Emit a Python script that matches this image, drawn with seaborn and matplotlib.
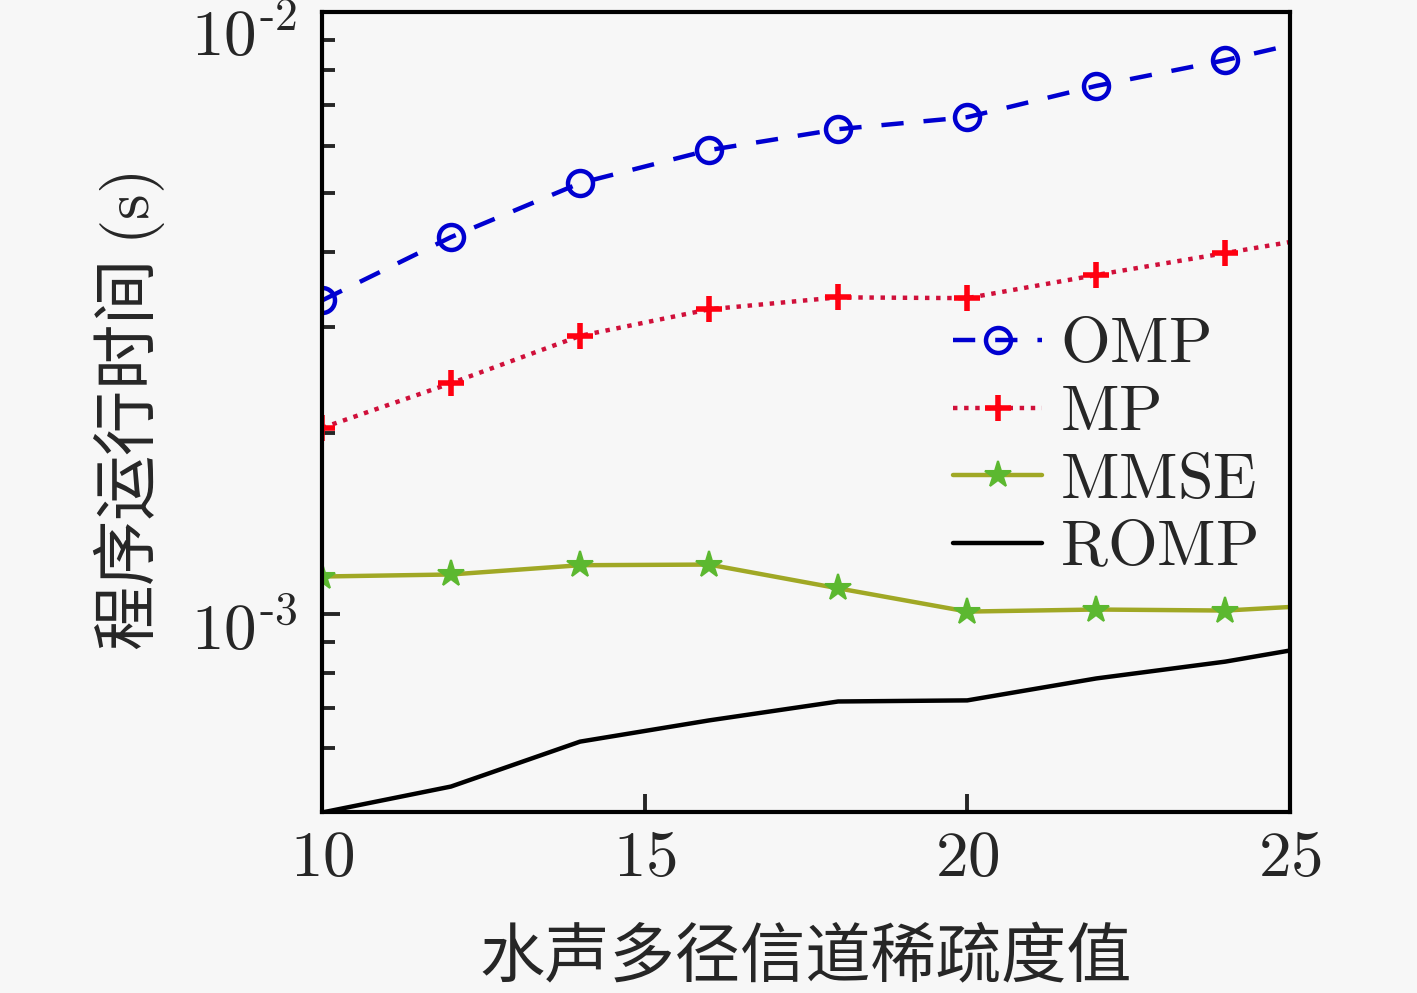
import matplotlib

matplotlib.use("Agg")
import matplotlib.pyplot as plt
import matplotlib.ticker as mticker
import numpy as np
import pandas as pd
import seaborn as sns


# sparsity values (last point lies past the x limit and is clipped)
sparsity = [10, 12, 14, 16, 18, 20, 22, 24, 26]

omp_time = [3.32e-3, 4.23e-3, 5.20e-3, 5.90e-3, 6.39e-3, 6.69e-3, 7.54e-3, 8.32e-3, 9.33e-3]
mp_time = [2.04e-3, 2.42e-3, 2.90e-3, 3.21e-3, 3.36e-3, 3.35e-3, 3.66e-3, 3.98e-3, 4.33e-3]
mmse_time = [1.156e-3, 1.165e-3, 1.207e-3, 1.210e-3, 1.105e-3, 1.011e-3, 1.019e-3, 1.015e-3, 1.043e-3]
romp_time = [4.69e-4, 5.18e-4, 6.15e-4, 6.67e-4, 7.17e-4, 7.20e-4, 7.83e-4, 8.35e-4, 9.09e-4]

methods = ["OMP", "MP", "MMSE", "ROMP"]
x_ticks = [10, 15, 20, 25]
y_major = [1e-3, 1e-2]
y_minor = [6e-4, 7e-4, 8e-4, 9e-4, 2e-3, 3e-3, 4e-3, 5e-3, 6e-3, 7e-3, 8e-3, 9e-3]

BG = "#f7f7f7"

sns.set_style("ticks")
plt.rcParams["font.family"] = ["Noto Sans CJK SC", "DejaVu Sans"]
plt.rcParams["mathtext.fontset"] = "cm"

df = pd.DataFrame(
    {
        "sparsity": sparsity * 4,
        "time": omp_time + mp_time + mmse_time + romp_time,
        "method": np.repeat(methods, len(sparsity)),
    }
)

styles = {
    "OMP": dict(color="#0000d0", linestyle=(0, (5.0, 4.5)), marker="o",
                markersize=18, markerfacecolor="none", markeredgecolor="#0000d0",
                markeredgewidth=3.2),
    "MP": dict(color="#d0103a", linestyle=(0, (1.0, 1.5)), marker="+",
               markersize=19, markeredgecolor="#ff0010", markeredgewidth=4.0),
    "MMSE": dict(color="#a0a825", linestyle="-", marker="*",
                 markersize=20, markerfacecolor="#5cb830", markeredgecolor="#5cb830",
                 markeredgewidth=1.5),
    "ROMP": dict(color="black", linestyle="-", marker=None),
}

fig = plt.figure(figsize=(14.17, 9.93), dpi=100, facecolor=BG)
ax = fig.add_axes([0.2272, 0.1823, 0.6831, 0.8056])
ax.set_facecolor(BG)

for name in methods:
    sub = df[df["method"] == name]
    sns.lineplot(data=sub, x="sparsity", y="time", ax=ax, label=f"$\\mathrm{{{name}}}$",
                 linewidth=3.2, clip_on=True, **styles[name])

ax.set_yscale("log")
ax.set_xlim(10, 25)
ax.set_ylim(4.7e-4, 1e-2)


def log_label(v, _):
    exp = int(round(np.log10(v)))
    return f"$10^{{\\text{{-}}{abs(exp)}}}$"


ax.xaxis.set_major_locator(mticker.FixedLocator(x_ticks))
ax.xaxis.set_major_formatter(mticker.FuncFormatter(lambda v, _: f"${v:g}$"))
ax.yaxis.set_major_locator(mticker.FixedLocator(y_major))
ax.yaxis.set_minor_locator(mticker.FixedLocator(y_minor))
ax.yaxis.set_major_formatter(mticker.FuncFormatter(log_label))
ax.yaxis.set_minor_formatter(mticker.NullFormatter())

ax.tick_params(axis="both", which="major", direction="in", length=13, width=2.8,
               labelsize=47, top=False, right=False)
ax.tick_params(axis="y", which="minor", direction="in", length=9, width=2.8,
               right=False)
ax.tick_params(axis="x", which="major", pad=9)
ax.tick_params(axis="y", which="major", pad=18)

for spine in ax.spines.values():
    spine.set_visible(True)
    spine.set_linewidth(3.0)
    spine.set_color("black")

ax.set_xlabel("水声多径信道稀疏度值", fontsize=47, labelpad=25)
ax.set_ylabel("程序运行时间 $(\\mathrm{s})$", fontsize=47, labelpad=17)

leg = ax.legend(
    loc="center left",
    bbox_to_anchor=(0.652, 0.458),
    frameon=False,
    fontsize=46,
    handlelength=1.4,
    handletextpad=0.28,
    labelspacing=0.02,
    borderpad=0,
    borderaxespad=0,
)

fig.canvas.draw()
# nudge y tick labels down; the top one a bit more so it stays inside the figure
for lbl in ax.get_yticklabels():
    shift = 17 if lbl.get_position()[1] >= 1e-2 else 10
    offset = matplotlib.transforms.ScaledTranslation(0, -shift / 100, fig.dpi_scale_trans)
    lbl.set_transform(lbl.get_transform() + offset)

fig.savefig("out.png", dpi=100, facecolor=BG)
